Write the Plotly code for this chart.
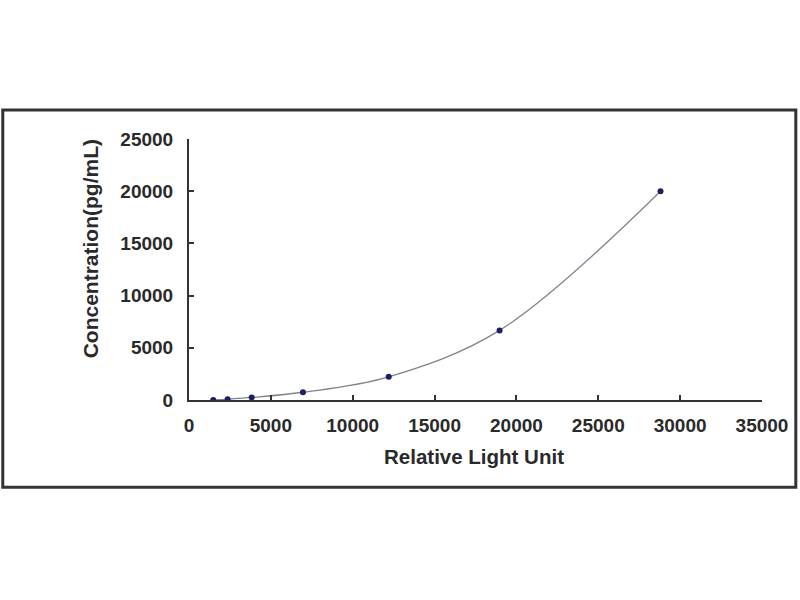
import plotly.graph_objects as go

# standard curve readings
rlu = [1480, 2360, 3830, 6960, 12200, 18970, 28800]
conc = [0, 82, 247, 741, 2222, 6667, 20000]

x_ticks = [0, 5000, 10000, 15000, 20000, 25000, 30000, 35000]
y_ticks = [0, 5000, 10000, 15000, 20000, 25000]

font_name = "Liberation Sans"
ink = "#2a2a2a"

fig = go.Figure()
fig.add_trace(go.Scatter(
    x=rlu, y=conc, mode="lines+markers",
    line=dict(shape="spline", smoothing=1.0, color="#80838f", width=1.3),
    marker=dict(color="#1c1f66", size=6),
    showlegend=False,
))

axis_common = dict(
    showgrid=False, zeroline=False, showline=True, linecolor="#333333",
    linewidth=2, ticks="inside", ticklen=5, tickwidth=2, tickcolor="#333333",
    tickformat="d",
    tickfont=dict(family=font_name, size=19, color=ink, weight="bold"),
)

fig.update_xaxes(range=[0, 35000], tickvals=x_ticks, ticklabelstandoff=7, **axis_common)
fig.update_yaxes(range=[0, 25000], tickvals=y_ticks, ticklabelstandoff=10, **axis_common)

fig.add_annotation(
    text="Relative Light Unit", xref="paper", yref="paper", x=0.498, y=-0.216,
    xanchor="center", yanchor="middle", showarrow=False,
    font=dict(family=font_name, size=20.5, color=ink, weight="bold"),
)
fig.add_annotation(
    text="Concentration(pg/mL)", xref="paper", yref="paper", x=-0.172, y=0.579,
    xanchor="center", yanchor="middle", showarrow=False, textangle=-90,
    font=dict(family=font_name, size=21, color=ink, weight="bold"),
)

# outer frame around the whole chart
fig.add_shape(
    type="rect", xref="paper", yref="paper",
    x0=-0.325, x1=1.059, y0=-0.334, y1=1.111,
    line=dict(color="#333333", width=3), layer="below",
)

fig.update_layout(
    width=800, height=600,
    margin=dict(l=188.5, r=38, t=139, b=199.5),
    paper_bgcolor="white", plot_bgcolor="white",
)

# drop the page's default body margin so the 800x600 figure fills the window
fig.write_html("out.html", config={"displayModeBar": False},
               post_script="document.body.style.margin='0';")
